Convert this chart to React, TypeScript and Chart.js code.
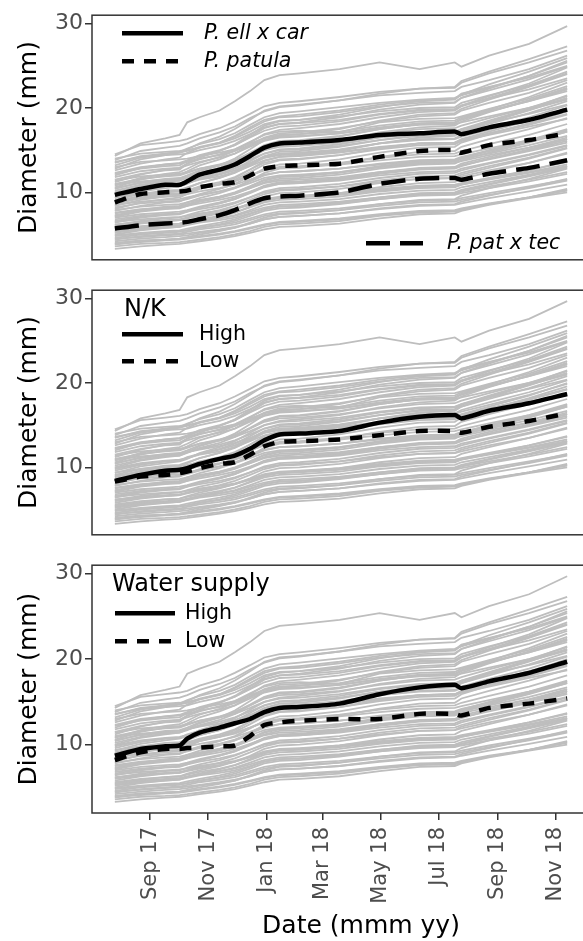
import React, { useEffect, useRef } from "react";
import { Chart, registerables } from "chart.js";

Chart.register(...registerables);

// Measurement dates shared by every tree and every treatment mean
const measureDates = [
  "2017-07-26", "2017-08-22", "2017-09-17", "2017-10-02", "2017-10-10",
  "2017-10-23", "2017-11-13", "2017-11-29", "2017-12-15", "2017-12-30",
  "2018-01-15", "2018-02-05", "2018-03-19", "2018-04-30", "2018-06-11",
  "2018-07-18", "2018-07-25", "2018-08-23", "2018-10-04", "2018-11-13",
];

// Stem diameter (mm) of individual trees at each measurement date
const treeDiameters: number[][] = [
  [14.3, 15.8, 16.4, 16.8, 18.3, 18.9, 19.7, 20.8, 22.0, 23.3, 23.9, 24.1, 24.6, 25.4, 24.6, 25.4, 24.9, 26.2, 27.6, 29.7],
  [14.5, 15.6, 15.9, 16.1, 16.3, 16.9, 17.6, 18.4, 19.3, 20.2, 20.6, 20.8, 21.3, 21.9, 22.3, 22.5, 23.2, 24.3, 25.8, 27.3],
  [13.8, 14.9, 15.3, 15.5, 15.8, 16.4, 17.1, 17.8, 18.8, 19.6, 20.1, 20.3, 20.9, 21.5, 21.8, 22.0, 22.5, 23.3, 24.6, 26.2],
  [13.2, 14.1, 14.6, 14.8, 15.2, 15.7, 16.3, 17.0, 18.0, 18.9, 19.4, 19.6, 20.1, 20.6, 21.0, 21.2, 21.5, 22.4, 23.8, 25.6],
  [14.0, 14.6, 14.8, 14.9, 15.0, 15.3, 15.8, 16.4, 17.2, 18.1, 18.5, 18.6, 19.0, 19.6, 20.0, 20.1, 20.6, 21.5, 22.7, 24.3],
  [12.6, 13.4, 13.9, 14.1, 14.7, 15.3, 15.9, 16.7, 17.7, 18.6, 19.0, 19.2, 19.7, 20.4, 20.9, 21.1, 21.7, 22.5, 23.6, 25.0],
  [12.0, 12.9, 13.3, 13.5, 13.8, 14.4, 15.0, 15.6, 16.5, 17.3, 17.8, 17.9, 18.4, 19.2, 19.7, 19.8, 20.3, 21.4, 22.9, 24.8],
  [11.5, 12.2, 12.6, 12.7, 13.4, 13.9, 14.5, 15.1, 16.0, 16.8, 17.2, 17.3, 17.1, 18.3, 18.7, 18.8, 19.0, 19.9, 21.1, 22.6],
  [13.0, 13.6, 13.8, 13.9, 14.0, 14.3, 14.7, 15.1, 15.8, 16.4, 16.8, 16.9, 17.2, 17.9, 18.4, 18.5, 18.9, 19.7, 20.8, 22.2],
  [10.8, 11.7, 12.2, 12.4, 12.8, 13.5, 14.2, 14.9, 15.9, 16.9, 17.4, 17.6, 18.1, 18.9, 19.5, 19.7, 20.2, 21.2, 22.6, 24.1],
  [11.0, 11.6, 11.9, 12.0, 12.3, 12.8, 13.3, 13.8, 14.6, 15.4, 15.8, 15.9, 16.3, 17.0, 17.5, 17.6, 17.9, 18.8, 20.0, 21.4],
  [10.2, 10.9, 11.3, 11.4, 11.7, 12.3, 12.9, 13.6, 14.6, 15.5, 16.0, 16.1, 16.6, 17.5, 18.1, 18.2, 18.7, 19.8, 21.3, 23.0],
  [9.8, 10.4, 10.7, 10.8, 11.2, 11.6, 12.1, 12.6, 13.4, 14.2, 14.6, 14.7, 15.1, 15.8, 16.2, 16.3, 16.6, 17.4, 18.6, 19.9],
  [9.3, 10.1, 10.5, 10.7, 11.0, 11.7, 12.4, 13.1, 14.1, 15.0, 15.5, 15.7, 16.2, 17.1, 17.7, 17.9, 18.4, 19.5, 20.9, 22.4],
  [9.0, 9.5, 9.8, 9.9, 10.1, 10.5, 10.9, 11.3, 12.0, 12.7, 13.0, 13.1, 13.5, 14.1, 14.5, 14.6, 14.9, 15.7, 16.8, 18.1],
  [8.6, 9.3, 9.7, 9.8, 10.2, 10.7, 11.2, 11.8, 12.7, 13.5, 13.9, 14.0, 14.4, 15.2, 15.8, 15.9, 16.3, 17.2, 18.5, 20.0],
  [8.2, 8.7, 8.9, 9.0, 9.2, 9.6, 10.1, 10.6, 11.3, 12.0, 12.4, 12.5, 12.8, 13.4, 13.8, 13.9, 14.2, 14.9, 16.0, 17.2],
  [7.8, 8.4, 8.8, 8.9, 9.3, 9.8, 10.4, 11.0, 11.9, 12.8, 13.3, 13.4, 13.9, 14.7, 15.3, 15.4, 15.9, 16.9, 18.2, 19.6],
  [7.5, 7.9, 8.1, 8.2, 8.4, 8.7, 9.1, 9.5, 10.1, 10.7, 11.0, 11.1, 11.4, 12.0, 12.4, 12.5, 12.8, 13.5, 14.5, 15.6],
  [7.1, 7.7, 8.0, 8.1, 8.4, 8.9, 9.4, 9.9, 10.7, 11.5, 11.9, 12.0, 12.4, 13.1, 13.6, 13.7, 14.1, 15.0, 16.2, 17.5],
  [6.8, 7.2, 7.4, 7.5, 7.7, 8.0, 8.4, 8.8, 9.4, 10.0, 10.3, 10.4, 10.7, 11.2, 11.6, 11.7, 11.9, 12.6, 13.5, 14.6],
  [6.4, 7.0, 7.3, 7.4, 7.7, 8.2, 8.7, 9.2, 10.0, 10.8, 11.2, 11.3, 11.7, 12.4, 12.9, 13.0, 13.4, 14.2, 15.3, 16.5],
  [6.0, 6.4, 6.6, 6.7, 6.9, 7.2, 7.6, 8.0, 8.6, 9.2, 9.5, 9.6, 9.9, 10.4, 10.8, 10.9, 11.1, 11.7, 12.6, 13.6],
  [5.6, 6.0, 6.2, 6.3, 6.5, 6.8, 7.2, 7.6, 8.2, 8.8, 9.1, 9.2, 9.5, 10.1, 10.5, 10.6, 10.9, 11.6, 12.6, 13.7],
  [5.2, 5.6, 5.8, 5.9, 6.1, 6.4, 6.7, 7.0, 7.5, 8.0, 8.3, 8.4, 8.7, 9.2, 9.6, 9.7, 9.9, 10.5, 11.3, 12.2],
  [4.8, 5.1, 5.3, 5.4, 5.5, 5.8, 6.1, 6.4, 6.9, 7.4, 7.7, 7.8, 8.1, 8.6, 9.0, 9.1, 9.3, 9.9, 10.7, 11.5],
  [4.4, 4.8, 5.0, 5.1, 5.3, 5.6, 5.9, 6.2, 6.7, 7.2, 7.5, 7.6, 7.9, 8.4, 8.8, 8.9, 9.1, 9.7, 10.5, 11.4],
  [4.0, 4.3, 4.4, 4.5, 4.6, 4.8, 5.1, 5.4, 5.8, 6.2, 6.5, 6.6, 6.9, 7.4, 7.8, 7.9, 8.1, 8.7, 9.4, 10.2],
  [3.6, 3.9, 4.0, 4.1, 4.2, 4.4, 4.7, 5.0, 5.4, 5.9, 6.2, 6.3, 6.6, 7.2, 7.6, 7.7, 7.9, 8.6, 9.4, 10.3],
  [3.3, 3.6, 3.8, 3.9, 4.0, 4.2, 4.5, 4.8, 5.2, 5.6, 5.9, 6.0, 6.3, 6.9, 7.4, 7.5, 7.8, 8.5, 9.3, 10.0],
  [12.3, 13.0, 13.3, 13.4, 13.6, 14.0, 14.4, 14.9, 15.6, 16.2, 16.6, 16.7, 17.0, 17.6, 18.0, 18.1, 18.3, 19.0, 20.0, 21.1],
  [11.2, 12.1, 12.7, 12.9, 13.4, 14.1, 14.9, 15.7, 16.8, 17.9, 18.4, 18.6, 19.2, 20.1, 20.8, 21.0, 21.6, 22.8, 24.3, 25.9],
  [10.5, 11.1, 11.4, 11.5, 11.8, 12.2, 12.7, 13.2, 13.9, 14.6, 15.0, 15.1, 15.5, 16.2, 16.7, 16.8, 17.2, 18.1, 19.4, 20.8],
  [9.6, 10.3, 10.7, 10.8, 11.1, 11.6, 12.2, 12.8, 13.7, 14.6, 15.1, 15.2, 15.7, 16.5, 17.0, 17.1, 17.5, 18.5, 19.9, 21.5],
  [8.9, 9.3, 9.5, 9.6, 9.8, 10.1, 10.5, 10.9, 11.5, 12.1, 12.4, 12.5, 12.8, 13.3, 13.7, 13.8, 14.0, 14.6, 15.6, 16.7],
  [8.0, 8.8, 9.2, 9.4, 9.8, 10.4, 11.0, 11.7, 12.7, 13.7, 14.2, 14.4, 14.9, 15.8, 16.5, 16.7, 17.2, 18.3, 19.7, 21.2],
  [7.3, 7.8, 8.1, 8.2, 8.5, 8.9, 9.3, 9.8, 10.5, 11.2, 11.6, 11.7, 12.1, 12.8, 13.3, 13.4, 13.8, 14.7, 15.9, 17.2],
  [6.6, 7.1, 7.4, 7.5, 7.8, 8.2, 8.7, 9.2, 9.9, 10.6, 11.0, 11.1, 11.5, 12.2, 12.7, 12.8, 13.1, 14.0, 15.1, 16.3],
  [6.2, 6.5, 6.7, 6.8, 7.0, 7.3, 7.6, 8.0, 8.5, 9.0, 9.3, 9.4, 9.7, 10.2, 10.6, 10.7, 10.9, 11.5, 12.3, 13.1],
  [5.4, 5.9, 6.2, 6.3, 6.6, 7.0, 7.5, 8.0, 8.7, 9.5, 9.9, 10.0, 10.4, 11.1, 11.6, 11.7, 12.1, 12.9, 14.0, 15.2],
  [4.6, 5.0, 5.2, 5.3, 5.5, 5.8, 6.2, 6.6, 7.2, 7.8, 8.1, 8.2, 8.6, 9.2, 9.7, 9.8, 10.1, 10.9, 11.9, 12.9],
  [4.2, 4.5, 4.7, 4.8, 4.9, 5.2, 5.5, 5.8, 6.3, 6.8, 7.1, 7.2, 7.5, 8.1, 8.5, 8.6, 8.9, 9.6, 10.6, 11.6],
  [3.8, 4.2, 4.4, 4.5, 4.7, 5.0, 5.4, 5.8, 6.4, 7.0, 7.4, 7.5, 7.9, 8.6, 9.1, 9.2, 9.6, 10.5, 11.6, 12.8],
  [10.0, 10.8, 11.2, 11.4, 11.8, 12.5, 13.2, 14.0, 15.1, 16.2, 16.7, 16.9, 17.5, 18.5, 19.2, 19.4, 19.9, 21.0, 22.5, 24.0],
  [12.8, 13.9, 14.4, 14.7, 15.1, 15.8, 16.6, 17.5, 18.6, 19.7, 20.2, 20.4, 20.9, 21.7, 22.3, 22.4, 23.0, 24.1, 25.4, 26.8],
  [7.6, 8.0, 8.2, 8.3, 8.6, 9.0, 9.5, 10.0, 10.7, 11.4, 11.8, 11.9, 12.3, 13.0, 13.5, 13.6, 14.0, 14.9, 16.1, 17.4],
  [5.0, 5.5, 5.8, 5.9, 6.2, 6.6, 7.1, 7.6, 8.3, 9.0, 9.4, 9.5, 9.9, 10.6, 11.1, 11.2, 11.6, 12.4, 13.5, 14.7],
  [9.4, 9.8, 10.0, 10.1, 10.3, 10.6, 11.0, 11.4, 12.0, 12.6, 12.9, 13.0, 13.3, 13.8, 14.2, 14.3, 14.5, 15.2, 16.2, 17.3],
  [13.5, 14.3, 14.6, 14.7, 14.9, 15.4, 15.9, 16.6, 17.5, 18.4, 18.9, 19.0, 19.5, 20.2, 20.6, 20.7, 21.2, 22.1, 23.4, 24.9],
  [11.8, 12.5, 12.8, 12.9, 13.2, 13.6, 14.1, 14.6, 15.4, 16.1, 16.5, 16.6, 17.0, 17.7, 18.2, 18.3, 18.7, 19.6, 20.9, 22.3],
  [10.6, 11.5, 12.0, 12.1, 12.5, 13.2, 13.9, 14.6, 15.6, 16.5, 17.0, 17.1, 17.6, 18.4, 19.0, 19.2, 19.7, 20.6, 21.8, 23.3],
  [9.9, 10.5, 10.8, 10.9, 11.1, 11.5, 11.9, 12.4, 13.1, 13.8, 14.2, 14.3, 14.7, 15.3, 15.8, 15.9, 16.2, 17.0, 18.0, 19.2],
  [8.4, 9.1, 9.5, 9.6, 9.9, 10.4, 10.9, 11.5, 12.4, 13.3, 13.8, 13.9, 14.4, 15.1, 15.6, 15.7, 16.1, 17.0, 18.1, 19.3],
  [7.9, 8.3, 8.5, 8.6, 8.8, 9.1, 9.5, 9.9, 10.5, 11.1, 11.4, 11.5, 11.8, 12.4, 12.8, 12.9, 13.2, 13.9, 14.9, 15.9],
  [7.0, 7.4, 7.6, 7.7, 7.9, 8.3, 8.8, 9.3, 10.0, 10.7, 11.1, 11.2, 11.6, 12.3, 12.8, 12.9, 13.2, 14.0, 15.0, 16.1],
  [6.5, 6.8, 7.0, 7.1, 7.2, 7.5, 7.8, 8.1, 8.6, 9.1, 9.4, 9.5, 9.8, 10.3, 10.7, 10.8, 11.0, 11.6, 12.4, 13.3],
  [5.8, 6.3, 6.6, 6.7, 7.0, 7.4, 7.9, 8.4, 9.1, 9.8, 10.2, 10.3, 10.7, 11.4, 11.9, 12.0, 12.3, 13.1, 14.1, 15.3],
  [5.3, 5.7, 5.9, 6.0, 6.2, 6.5, 6.9, 7.3, 7.9, 8.5, 8.8, 8.9, 9.2, 9.8, 10.2, 10.3, 10.6, 11.2, 12.1, 13.0],
  [4.9, 5.2, 5.4, 5.5, 5.7, 6.0, 6.4, 6.8, 7.4, 8.0, 8.3, 8.4, 8.8, 9.4, 9.9, 10.0, 10.3, 11.0, 12.0, 13.1],
  [4.5, 4.7, 4.9, 5.0, 5.1, 5.3, 5.6, 5.9, 6.3, 6.8, 7.1, 7.2, 7.5, 8.0, 8.4, 8.5, 8.7, 9.3, 10.1, 10.9],
  [3.9, 4.1, 4.3, 4.4, 4.5, 4.7, 5.0, 5.3, 5.7, 6.1, 6.4, 6.5, 6.8, 7.3, 7.7, 7.8, 8.0, 8.6, 9.4, 10.4],
  [12.2, 12.8, 13.1, 13.2, 13.7, 14.3, 14.9, 15.6, 16.6, 17.6, 18.1, 18.3, 18.9, 19.8, 20.4, 20.6, 21.2, 22.3, 23.8, 25.4],
  [11.4, 11.9, 12.1, 12.2, 12.4, 12.8, 13.2, 13.6, 14.3, 15.0, 15.4, 15.5, 15.9, 16.6, 17.1, 17.2, 17.5, 18.3, 19.3, 20.4],
  [10.4, 11.2, 11.6, 11.7, 12.0, 12.6, 13.2, 13.8, 14.7, 15.6, 16.1, 16.2, 16.7, 17.5, 18.1, 18.2, 18.6, 19.6, 20.8, 22.0],
  [9.1, 9.8, 10.2, 10.3, 10.6, 11.1, 11.7, 12.3, 13.2, 14.1, 14.5, 14.6, 15.0, 15.8, 16.3, 16.4, 16.8, 17.7, 18.9, 20.3],
  [8.5, 8.9, 9.1, 9.2, 9.4, 9.7, 10.1, 10.5, 11.1, 11.7, 12.0, 12.1, 12.4, 13.0, 13.4, 13.5, 13.7, 14.4, 15.3, 16.3],
  [7.2, 7.9, 8.3, 8.4, 8.8, 9.3, 9.9, 10.5, 11.4, 12.3, 12.8, 12.9, 13.4, 14.2, 14.8, 14.9, 15.4, 16.3, 17.5, 18.8],
  [6.1, 6.6, 6.9, 7.0, 7.3, 7.7, 8.2, 8.7, 9.4, 10.1, 10.5, 10.6, 11.0, 11.7, 12.2, 12.3, 12.6, 13.4, 14.4, 15.5],
  [5.5, 5.8, 6.0, 6.1, 6.3, 6.6, 6.9, 7.2, 7.7, 8.2, 8.5, 8.6, 8.9, 9.4, 9.8, 9.9, 10.1, 10.7, 11.5, 12.4],
  [13.6, 14.2, 14.4, 14.5, 14.6, 15.0, 15.5, 16.1, 16.9, 17.7, 18.1, 18.2, 18.6, 19.3, 19.8, 19.9, 20.3, 21.1, 22.2, 23.5],
  [8.8, 9.6, 10.0, 10.2, 10.5, 11.1, 11.7, 12.4, 13.4, 14.3, 14.8, 14.9, 15.4, 16.2, 16.8, 16.9, 17.4, 18.4, 19.8, 21.0],
  [10.9, 11.3, 11.5, 11.6, 11.8, 12.1, 12.5, 12.9, 13.5, 14.1, 14.4, 14.5, 14.8, 15.4, 15.8, 15.9, 16.1, 16.8, 17.8, 18.7],
];

// Mean diameter (mm) by species
const ellCarMean = [9.7, 10.4, 10.9, 10.9, 11.3, 12.1, 12.7, 13.3, 14.3, 15.3, 15.8, 15.9, 16.2, 16.8, 17.0, 17.2, 16.9, 17.7, 18.6, 19.8];
const patulaMean = [8.8, 9.8, 10.0, 10.1, 10.2, 10.6, 11.0, 11.2, 12.0, 12.8, 13.1, 13.2, 13.4, 14.2, 14.9, 15.0, 14.7, 15.6, 16.2, 17.0];
const patTecMean = [5.7, 6.1, 6.3, 6.4, 6.5, 6.8, 7.3, 7.9, 8.7, 9.3, 9.5, 9.6, 10.0, 11.0, 11.6, 11.7, 11.5, 12.2, 12.9, 13.8];

// Mean diameter (mm) by N/K level
const nkHighMean = [8.4, 9.1, 9.6, 9.7, 9.9, 10.4, 11.0, 11.4, 12.2, 13.2, 13.9, 14.0, 14.3, 15.3, 16.0, 16.2, 15.8, 16.7, 17.6, 18.7];
const nkLowMean = [8.3, 8.9, 9.1, 9.3, 9.5, 9.9, 10.4, 10.6, 11.5, 12.5, 13.0, 13.1, 13.3, 13.8, 14.3, 14.3, 14.1, 14.8, 15.5, 16.4];

// Mean diameter (mm) by water supply
const waterHighMean = [8.7, 9.5, 9.8, 9.9, 10.7, 11.4, 12.0, 12.5, 13.0, 13.8, 14.3, 14.4, 14.8, 15.9, 16.7, 17.0, 16.6, 17.4, 18.4, 19.7];
const waterLowMean = [8.2, 9.1, 9.5, 9.5, 9.6, 9.65, 9.8, 9.9, 11.0, 12.3, 12.6, 12.8, 13.0, 13.0, 13.6, 13.6, 13.4, 14.3, 14.8, 15.4];

// Axis ticks
const monthTicks = ["2017-09-01", "2017-11-01", "2018-01-01", "2018-03-01", "2018-05-01", "2018-07-01", "2018-09-01", "2018-11-01"];
const monthLabels = ["Sep 17", "Nov 17", "Jan 18", "Mar 18", "May 18", "Jul 18", "Sep 18", "Nov 18"];
const yTicks = [10, 20, 30];

const toDay = (iso: string) => {
  const [y, m, d] = iso.split("-").map(Number);
  return Date.UTC(y, m - 1, d) / 86400000;
};

// Axis limits
const X_MIN = toDay("2017-07-02");
const X_MAX = toDay("2019-01-18");
const Y_MIN = 2;
const Y_MAX = 31;

const FONT = "'DejaVu Sans', sans-serif";
const GRAY = "#BEBEBE";
const INK = "#333333";
const TICK_TEXT = "#4D4D4D";

const SOLID: number[] = [];
const DASHED = [12, 10];
const LONGDASH = [24, 10];

Chart.defaults.font.family = FONT;

const series = (values: number[]) => values.map((v, i) => ({ x: toDay(measureDates[i]), y: v }));

const treeDatasets = () =>
  treeDiameters.map((vals, i) => ({
    label: `tree ${i + 1}`,
    data: series(vals),
    borderColor: GRAY,
    borderWidth: 1.8,
    pointRadius: 0,
    tension: 0,
    order: 1,
  }));

const meanDataset = (label: string, values: number[], dash: number[]) => ({
  label,
  data: series(values),
  borderColor: "#000000",
  borderWidth: 4.5,
  borderDash: dash,
  borderCapStyle: "butt",
  borderJoinStyle: "round",
  pointRadius: 0,
  tension: 0.25,
  order: 0,
});

type KeyItem = { label: string; x0: number; x1: number; y: number; tx: number; italic?: boolean };
type KeySpec = { title?: string; titleX?: number; titleY?: number; items: KeyItem[] };

// Draws the in-panel key using each dataset's own stroke style
const keyPlugin = (spec: KeySpec) => ({
  id: "panelKey",
  afterDatasetsDraw(chart: any) {
    const { ctx, chartArea: a } = chart;
    ctx.save();
    ctx.fillStyle = "#000";
    ctx.textBaseline = "middle";
    ctx.textAlign = "left";
    if (spec.title) {
      ctx.font = `24px ${FONT}`;
      ctx.fillText(spec.title, a.left + (spec.titleX || 0), a.top + (spec.titleY || 0));
    }
    for (const it of spec.items) {
      const ds = chart.data.datasets.find((d: any) => d.label === it.label);
      ctx.strokeStyle = ds.borderColor;
      ctx.lineWidth = ds.borderWidth;
      ctx.lineCap = "butt";
      ctx.setLineDash(ds.borderDash || []);
      ctx.beginPath();
      ctx.moveTo(a.left + it.x0, a.top + it.y);
      ctx.lineTo(a.left + it.x1, a.top + it.y);
      ctx.stroke();
      ctx.setLineDash([]);
      ctx.font = `${it.italic ? "italic " : ""}20.5px ${FONT}`;
      ctx.fillText(it.label, a.left + it.tx, a.top + it.y);
    }
    ctx.restore();
  },
});

const framePlugin = {
  id: "panelFrame",
  afterDatasetsDraw(chart: any) {
    const { ctx, chartArea: a } = chart;
    ctx.save();
    ctx.strokeStyle = INK;
    ctx.lineWidth = 1.5;
    ctx.strokeRect(a.left, a.top, a.right - a.left, a.bottom - a.top);
    ctx.restore();
  },
};

type PanelSpec = {
  top: number;
  height: number;
  padTop: number;
  padBottom: number;
  showX: boolean;
  means: { label: string; values: number[]; dash: number[] }[];
  key: KeySpec;
};

const CANVAS_W = 640;

const panels: PanelSpec[] = [
  {
    top: 0,
    height: 275,
    padTop: 14,
    padBottom: 12,
    showX: false,
    means: [
      { label: "P. ell x car", values: ellCarMean, dash: SOLID },
      { label: "P. patula", values: patulaMean, dash: DASHED },
      { label: "P. pat x tec", values: patTecMean, dash: LONGDASH },
    ],
    key: {
      items: [
        { label: "P. ell x car", x0: 30, x1: 91, y: 18, tx: 112, italic: true },
        { label: "P. patula", x0: 30, x1: 91, y: 46, tx: 112, italic: true },
        { label: "P. pat x tec", x0: 274, x1: 331, y: 228, tx: 355, italic: true },
      ],
    },
  },
  {
    top: 275,
    height: 275,
    padTop: 12,
    padBottom: 12,
    showX: false,
    means: [
      { label: "High", values: nkHighMean, dash: SOLID },
      { label: "Low", values: nkLowMean, dash: DASHED },
    ],
    key: {
      title: "N/K",
      titleX: 32,
      titleY: 19.5,
      items: [
        { label: "High", x0: 30, x1: 91, y: 44, tx: 107 },
        { label: "Low", x0: 30, x1: 91, y: 71, tx: 107 },
      ],
    },
  },
  {
    top: 550,
    height: 391,
    padTop: 12,
    padBottom: 0,
    showX: true,
    means: [
      { label: "High", values: waterHighMean, dash: SOLID },
      { label: "Low", values: waterLowMean, dash: DASHED },
    ],
    key: {
      title: "Water supply",
      titleX: 20,
      titleY: 20,
      items: [
        { label: "High", x0: 23, x1: 83, y: 48, tx: 93 },
        { label: "Low", x0: 23, x1: 83, y: 76, tx: 93 },
      ],
    },
  },
];

function Panel({ spec }: { spec: PanelSpec }) {
  const ref = useRef<HTMLCanvasElement | null>(null);

  useEffect(() => {
    if (!ref.current) return;
    const datasets: any[] = [
      ...spec.means.map((m) => meanDataset(m.label, m.values, m.dash)),
      ...treeDatasets(),
    ];
    const chart = new Chart(ref.current, {
      type: "line",
      data: { datasets },
      plugins: [framePlugin, keyPlugin(spec.key)],
      options: {
        responsive: false,
        animation: false,
        devicePixelRatio: 1,
        events: [],
        layout: { padding: { top: spec.padTop, bottom: spec.padBottom, left: 0, right: 10 } },
        plugins: { legend: { display: false }, tooltip: { enabled: false } },
        scales: {
          x: {
            type: "linear",
            min: X_MIN,
            max: X_MAX,
            bounds: "data",
            display: spec.showX,
            afterBuildTicks: (ax: any) => {
              ax.ticks = monthTicks.map((m) => ({ value: toDay(m) }));
            },
            afterFit: (ax: any) => {
              ax.height = spec.showX ? 128 : 0;
            },
            grid: { drawOnChartArea: false, drawTicks: true, tickLength: 7, color: INK, lineWidth: 1.5 },
            border: { display: false },
            ticks: {
              autoSkip: false,
              minRotation: 90,
              maxRotation: 90,
              padding: 7,
              color: TICK_TEXT,
              font: { size: 21 },
              callback: (_v: any, i: number) => monthLabels[i],
            },
            title: {
              display: true,
              text: "Date (mmm yy)",
              color: "#000",
              font: { size: 25 },
              padding: { top: 0, bottom: 0 },
            },
          },
          y: {
            type: "linear",
            min: Y_MIN,
            max: Y_MAX,
            afterBuildTicks: (ax: any) => {
              ax.ticks = yTicks.map((v) => ({ value: v }));
            },
            afterFit: (ax: any) => {
              ax.width = 92;
            },
            grid: { drawOnChartArea: false, drawTicks: true, tickLength: 7, color: INK, lineWidth: 1.5 },
            border: { display: false },
            ticks: {
              padding: 2,
              color: TICK_TEXT,
              font: { size: 22 },
              callback: (v: any) => String(v),
            },
            title: {
              display: true,
              text: "Diameter (mm)",
              color: "#000",
              font: { size: 25 },
              padding: { top: 14, bottom: 0 },
            },
          },
        },
      } as any,
    });
    return () => chart.destroy();
  }, [spec]);

  return (
    <canvas
      ref={ref}
      width={CANVAS_W}
      height={spec.height}
      style={{ position: "absolute", left: 0, top: spec.top, width: CANVAS_W, height: spec.height, display: "block" }}
    />
  );
}

export default function App() {
  return (
    <div
      style={{
        position: "fixed",
        left: 0,
        top: 0,
        width: 583,
        height: 941,
        overflow: "hidden",
        background: "#ffffff",
      }}
    >
      {panels.map((p, i) => (
        <Panel key={i} spec={p} />
      ))}
    </div>
  );
}
